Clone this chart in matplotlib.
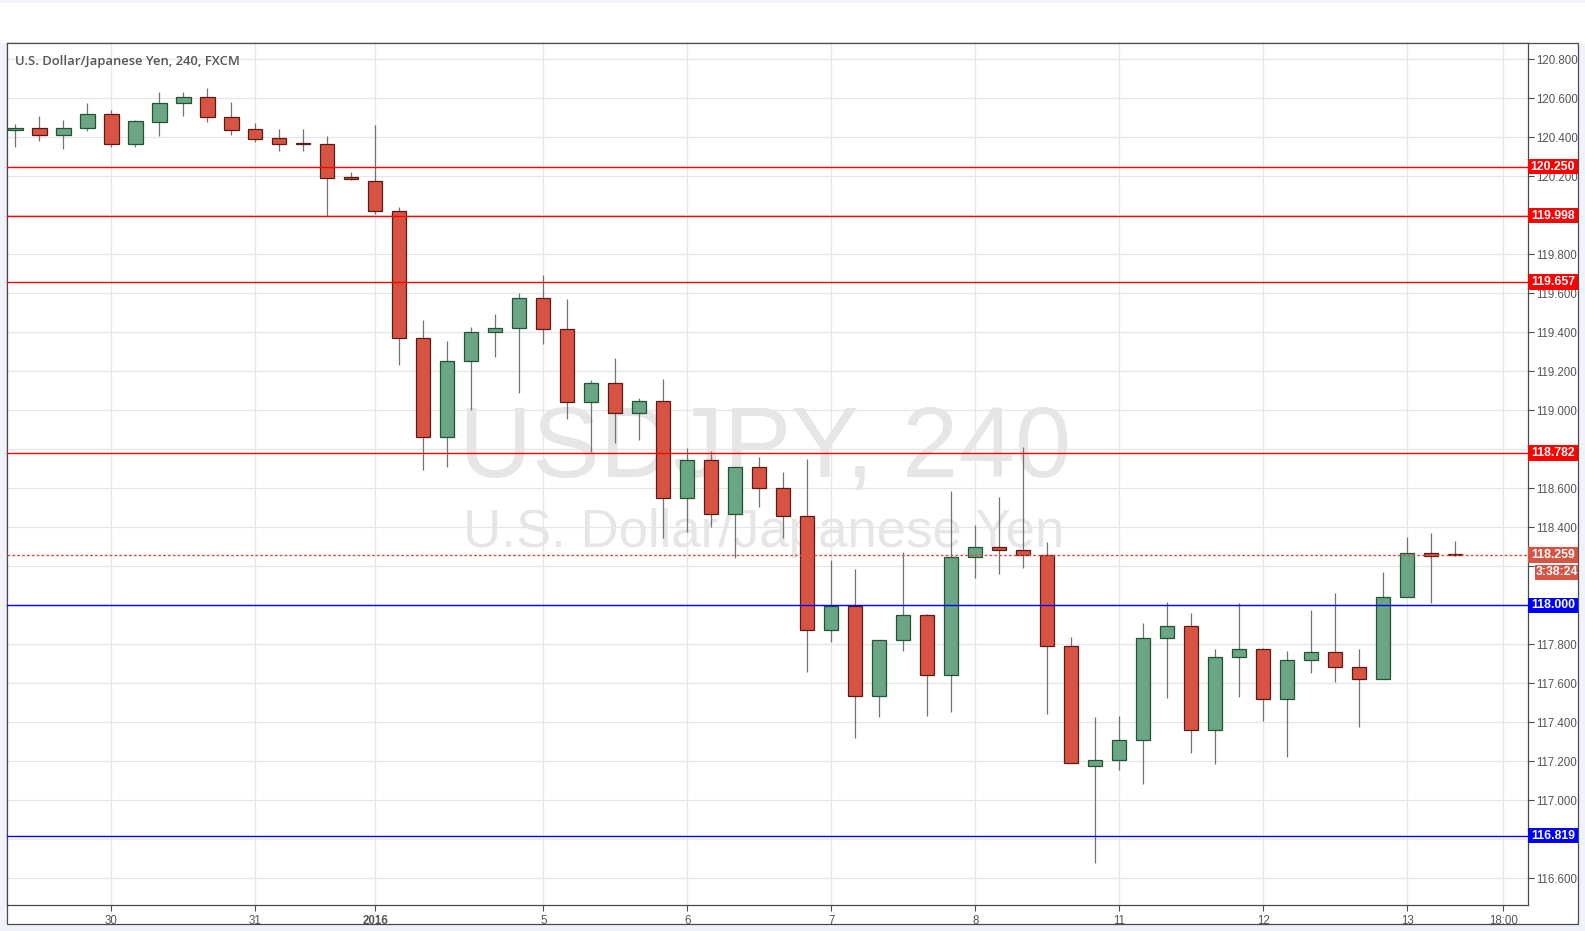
import matplotlib
matplotlib.use("Agg")
import matplotlib.pyplot as plt
import matplotlib.transforms as mtrans
from matplotlib.patches import Rectangle
import numpy as np

plt.rcParams['font.family'] = ['Liberation Sans', 'DejaVu Sans']

# 4H candles, USD/JPY, Dec 29 2015 .. Jan 13 2016
opens = [120.44, 120.45, 120.41, 120.45, 120.52, 120.366, 120.48, 120.574, 120.605, 120.502,
         120.44, 120.394, 120.368, 120.368, 120.196, 120.178, 120.024, 119.371, 118.865, 119.252,
         119.402, 119.422, 119.576, 119.417, 119.042, 119.139, 118.985, 119.047, 118.553, 118.743,
         118.466, 118.707, 118.600, 118.456, 117.875, 117.998, 117.535, 117.823, 117.952, 117.643,
         118.250, 118.301, 118.286, 118.260, 117.792, 117.175, 117.206, 117.309, 117.833, 117.895,
         117.360, 117.736, 117.777, 117.520, 117.720, 117.761, 117.684, 117.623, 118.044, 118.270,
         118.262]
highs = [120.47, 120.51, 120.49, 120.575, 120.54, 120.49, 120.633, 120.633, 120.654, 120.58,
         120.472, 120.442, 120.442, 120.406, 120.221, 120.462, 120.041, 119.465, 119.357, 119.429,
         119.496, 119.604, 119.696, 119.573, 119.156, 119.269, 119.064, 119.161, 118.807, 118.791,
         118.71, 118.760, 118.683, 118.749, 118.231, 118.185, 117.823, 118.272, 117.958, 118.586,
         118.411, 118.555, 118.812, 118.323, 117.840, 117.429, 117.434, 117.912, 118.015, 117.963,
         117.778, 118.010, 117.780, 117.768, 117.974, 118.061, 117.778, 118.169, 118.349, 118.370,
         118.329]
lows = [120.35, 120.38, 120.34, 120.43, 120.35, 120.35, 120.406, 120.508, 120.478, 120.412,
        120.376, 120.33, 120.33, 119.999, 120.179, 120.008, 119.235, 118.695, 118.711, 119.004,
        119.276, 119.091, 119.338, 118.957, 118.788, 118.834, 118.849, 118.345, 118.375, 118.404,
        118.243, 118.505, 118.345, 117.657, 117.811, 117.322, 117.425, 117.765, 117.435, 117.451,
        118.140, 118.160, 118.191, 117.441, 117.191, 116.680, 117.158, 117.086, 117.523, 117.245,
        117.184, 117.528, 117.405, 117.220, 117.651, 117.605, 117.374, 117.623, 118.044, 118.011,
        118.255]
closes = [120.45, 120.41, 120.45, 120.52, 120.366, 120.483, 120.575, 120.606, 120.502, 120.44,
          120.392, 120.366, 120.366, 120.193, 120.186, 120.022, 119.371, 118.865, 119.252, 119.402,
          119.422, 119.576, 119.417, 119.042, 119.139, 118.985, 119.047, 118.553, 118.743, 118.466,
          118.707, 118.600, 118.456, 117.875, 117.998, 117.535, 117.823, 117.952, 117.643, 118.250,
          118.301, 118.286, 118.260, 117.792, 117.191, 117.206, 117.309, 117.833, 117.895, 117.360,
          117.736, 117.777, 117.520, 117.720, 117.761, 117.684, 117.623, 118.044, 118.270, 118.255,
          118.259]

day_ticks = [4, 10, 15, 22, 28, 34, 40, 46, 52, 58, 62]
day_labels = ["30", "31", "2016", "5", "6", "7", "8", "11", "12", "13", "18:00"]
price_ticks = [116.6, 116.8, 117.0, 117.2, 117.4, 117.6, 117.8, 118.0, 118.2, 118.4, 118.6,
               118.8, 119.0, 119.2, 119.4, 119.6, 119.8, 120.0, 120.2, 120.4, 120.6, 120.8]
red_levels = [120.250, 119.998, 119.657, 118.782]
blue_levels = [118.000, 116.819]
last_price = 118.259
countdown = "3:38:24"

W, H = 1585, 931
fig = plt.figure(figsize=(W / 100, H / 100), dpi=100, facecolor="#f0f3fa")
fig.patches.append(Rectangle((0, 1 - 43 / H), 1, 40 / H, transform=fig.transFigure,
                             fc="white", ec="none", zorder=-2))
fig.patches.append(Rectangle((7 / W, 1 - 924 / H), 1571 / W, 881 / H, transform=fig.transFigure,
                             fc="white", ec="#4a4a4a", lw=0.9, zorder=-1))

ax_l, ax_r, ax_t, ax_b = 7, 1528, 43.3, 905.3
ax = fig.add_axes([ax_l / W, 1 - ax_b / H, (ax_r - ax_l) / W, (ax_b - ax_t) / H])
ax.set_xlim(-0.346, 63.03)
ax.set_ylim(116.462, 120.882)
ppu = (ax_b - ax_t) / (120.882 - 116.462)
axw = ax_r - ax_l

# watermark
ax.text(765 / W, 1 - 477 / H, "USDJPY, 240", transform=fig.transFigure, ha="center",
        va="baseline", fontsize=73, color="#e6e6e6", zorder=0.3)
ax.text(764 / W, 1 - 547 / H, "U.S. Dollar/Japanese Yen", transform=fig.transFigure,
        ha="center", va="baseline", fontsize=38, color="#e6e6e6", zorder=0.3)

x = np.arange(len(opens))
o = np.array(opens); c = np.array(closes)
up = c >= o
bottom = np.minimum(o, c)
height = np.maximum(np.abs(c - o), 0.004)
ax.vlines(x, lows, highs, color="#737373", lw=0.9, zorder=2)
ax.bar(x[up], height[up], 0.6, bottom[up], color="#6ba583", edgecolor="#225437",
       linewidth=0.9, zorder=3)
ax.bar(x[~up], height[~up], 0.6, bottom[~up], color="#d75442", edgecolor="#5b1a13",
       linewidth=0.9, zorder=3)

trans = mtrans.blended_transform_factory(ax.transAxes, ax.transData)


def tag(price, text, color, x0=0, dy=0, w=50):
    y = price + dy / ppu
    h = 15.5 / ppu
    ax.add_patch(Rectangle((1 + x0 / axw, y - h / 2), w / axw, h, transform=trans,
                           fc=color, ec="none", clip_on=False, zorder=10))
    ax.text(1 + (x0 + w / 2) / axw, y, text, transform=trans, ha="center", va="center",
            fontsize=8.8, fontweight="bold", color="white", clip_on=False, zorder=11)
    return y


tag_ys = []
for lv in red_levels:
    ax.axhline(lv, color="#ff0000", lw=1.0, zorder=4)
    tag_ys.append(tag(lv, "%.3f" % lv, "#ff0000"))
for lv in blue_levels:
    ax.axhline(lv, color="#0000ff", lw=1.0, zorder=4)
    tag_ys.append(tag(lv, "%.3f" % lv, "#0000ff"))
ax.axhline(last_price, color="#d75442", lw=1.0, ls=(0, (2, 1.5)), zorder=4)
tag_ys.append(tag(last_price, "%.3f" % last_price, "#d75442"))
tag_ys.append(tag(last_price, countdown, "#d75442", x0=7, dy=-17.5, w=43))

# tick labels hidden under a tag box are left blank, as in the reference
ylabels = []
for p in price_ticks:
    covered = any(abs(p - ty) * ppu < 8 for ty in tag_ys)
    ylabels.append("" if covered else "%.3f" % p)

ax.yaxis.tick_right()
ax.set_yticks(price_ticks)
ax.set_yticklabels(ylabels)
ax.set_xticks(day_ticks)
ax.set_xticklabels(day_labels)
ax.get_xticklabels()[2].set_fontweight("bold")
ax.tick_params(colors="#4a4a4a", labelcolor="#555555", labelsize=8.3, length=4, width=0.8)
ax.tick_params(axis="y", pad=2)
ax.tick_params(axis="x", pad=3)
ax.grid(True, color="#e6e6e6", lw=0.9)
ax.set_axisbelow(True)
for s in ax.spines.values():
    s.set_color("#4a4a4a")
    s.set_linewidth(0.9)

fig.text(15 / W, 1 - 61 / H, "U.S. Dollar/Japanese Yen, 240, FXCM", fontsize=9.4,
         family=["Open Sans", "DejaVu Sans"], fontweight="semibold", color="#555555",
         va="center")

fig.savefig("out.png", dpi=100, facecolor=fig.get_facecolor())
